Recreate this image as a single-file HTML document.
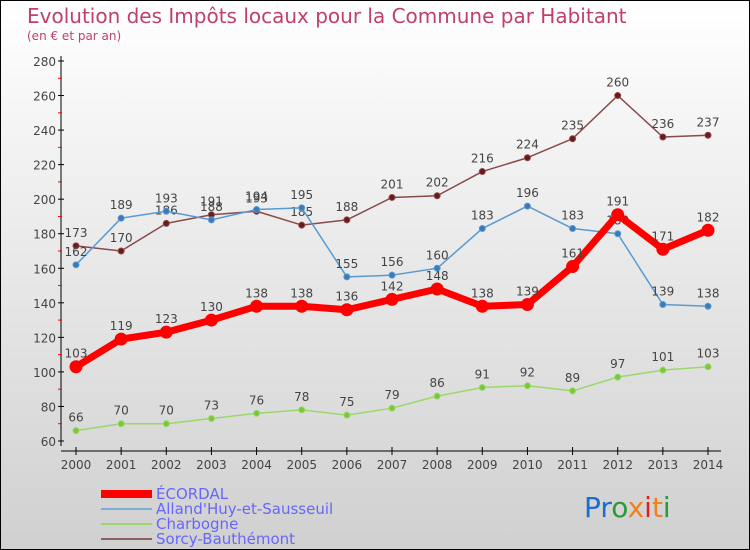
<!DOCTYPE html>
<html><head><meta charset="utf-8"><style>
body{margin:0}
#c{width:750px;height:550px;position:relative;box-sizing:border-box;border:1px solid #000;background:linear-gradient(#ffffff,#d0d0d0);font-family:"DejaVu Sans","Liberation Sans",sans-serif;overflow:hidden}
svg text{font-family:"DejaVu Sans","Liberation Sans",sans-serif}
</style></head><body>
<div id="c">
<svg id="s" width="750" height="550">
<text x="26" y="22" font-size="20" fill="#c0406a">Evolution des Impôts locaux pour la Commune par Habitant</text>
<text x="26" y="39" font-size="12" fill="#c0406a">(en € et par an)</text>
<g id="axes"></g><g id="series"></g>
<g font-size="15" fill="#6666ff">
<rect x="100" y="489" width="51" height="8" fill="#ff0000"/>
<text x="155" y="498">ÉCORDAL</text>
<rect x="100" y="507" width="51" height="2" fill="#7ab0d8"/>
<text x="155" y="513">Alland'Huy-et-Sausseuil</text>
<rect x="100" y="522" width="51" height="2" fill="#9ad86a"/>
<text x="155" y="528">Charbogne</text>
<rect x="100" y="537" width="51" height="2" fill="#8a6060"/>
<text x="155" y="543">Sorcy-Bauthémont</text>
</g>
<g font-size="28" font-family="Liberation Sans">
<text x="583" y="516"><tspan fill="#1a6ed0">Pr</tspan><tspan fill="#2a9a3a">o</tspan><tspan fill="#f08020">x</tspan><tspan fill="#e02020">i</tspan><tspan fill="#f08020">t</tspan><tspan fill="#2a9a3a">i</tspan></text>
</g>
</svg>
</div>
<script>
const years=[2000,2001,2002,2003,2004,2005,2006,2007,2008,2009,2010,2011,2012,2013,2014];
const yTicks=[60,80,100,120,140,160,180,200,220,240,260,280];
const ecordal=[103,119,123,130,138,138,136,142,148,138,139,161,191,171,182];
const alland=[162,189,193,188,194,195,155,156,160,183,196,183,180,139,138];
const charbogne=[66,70,70,73,76,78,75,79,86,91,92,89,97,101,103];
const sorcy=[173,170,186,191,193,185,188,201,202,216,224,235,260,236,237];
const NS="http://www.w3.org/2000/svg";
const X=i=>75+i*(707-75)/14;
const Y=v=>440-(v-60)*(380/220);
function mk(t,a,p){const e=document.createElementNS(NS,t);for(const k in a)e.setAttribute(k,a[k]);p.appendChild(e);return e;}
const ax=document.getElementById('axes'),se=document.getElementById('series');
let l=mk('line',{x1:60,y1:55,x2:60,y2:445,stroke:'#000'},ax);


l=mk('line',{x1:60,y1:450,x2:720,y2:450,stroke:'#000'},ax);


yTicks.forEach(v=>{
 mk('line',{x1:57,y1:Y(v),x2:63,y2:Y(v),stroke:'#000'},ax);
 if(v<280)mk('line',{x1:57,y1:Y(v+10),x2:61,y2:Y(v+10),stroke:'#f00'},ax);
 const t=mk('text',{x:55,y:Y(v)+5,'font-size':12,fill:'#444','text-anchor':'end'},ax);
 t.textContent=v;
 
 
});
years.forEach((y,i)=>{
 mk('line',{x1:X(i),y1:446,x2:X(i),y2:454,stroke:'#000'},ax);
 const t=mk('text',{x:X(i),y:468,'font-size':12,fill:'#444','text-anchor':'middle'},ax);
 t.textContent=y;
 
 
});
function draw(name,data,color,w,r,dot){
 const g=mk('g',{},se);
 
 
 mk('polyline',{points:data.map((v,i)=>X(i)+','+Y(v)).join(' '),fill:'none',stroke:color,'stroke-width':w,'stroke-linejoin':'round'},g);
 data.forEach((v,i)=>{
  const c=mk('circle',{cx:X(i),cy:Y(v),r:r,fill:dot,stroke:color,'stroke-width':1},g);
  
  
  const t=mk('text',{x:X(i),y:Y(v)-9,'font-size':12,fill:'#444','text-anchor':'middle'},g);
  t.textContent=v;
  
  
 });
}
draw('sorcy',sorcy,'#8a4a4a',1.5,3,'#6a1a1a');
draw('alland',alland,'#5a9ad0',1.5,3,'#3a7ab8');
draw('charbogne',charbogne,'#9ad86a',1.5,3,'#7ac83a');
draw('ecordal',ecordal,'#ff0000',7,6,'#ff0000');
</script>
</body></html>
